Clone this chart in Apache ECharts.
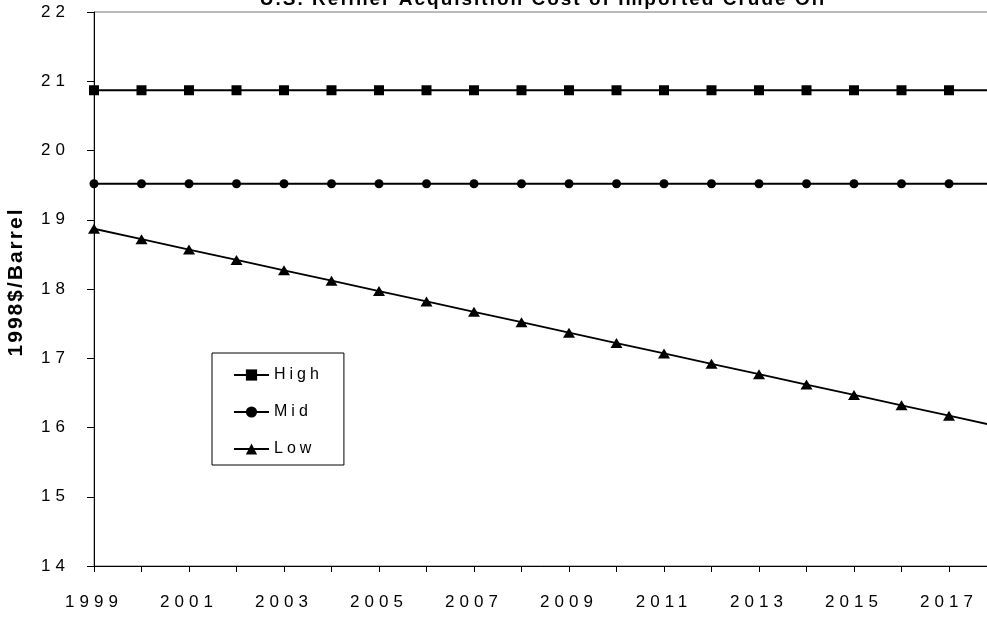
<!DOCTYPE html>
<html>
<head>
<meta charset="utf-8">
<script src="https://cdn.jsdelivr.net/npm/echarts@6/dist/echarts.min.js"></script>
<style>
html,body{margin:0;padding:0;background:#fff;}
#chart{width:987px;height:619px;}
</style>
</head>
<body>
<div id="chart"></div>
<script>
// ---- data ----
const years = [1999, 2000, 2001, 2002, 2003, 2004, 2005, 2006, 2007, 2008, 2009, 2010, 2011, 2012, 2013, 2014, 2015, 2016, 2017, 2018];
const highValues = [20.87, 20.87, 20.87, 20.87, 20.87, 20.87, 20.87, 20.87, 20.87, 20.87, 20.87, 20.87, 20.87, 20.87, 20.87, 20.87, 20.87, 20.87, 20.87, 20.87];
const midValues = [19.52, 19.52, 19.52, 19.52, 19.52, 19.52, 19.52, 19.52, 19.52, 19.52, 19.52, 19.52, 19.52, 19.52, 19.52, 19.52, 19.52, 19.52, 19.52, 19.52];
const lowValues = [18.87, 18.72, 18.57, 18.42, 18.27, 18.12, 17.97, 17.82, 17.67, 17.52, 17.37, 17.22, 17.07, 16.92, 16.77, 16.62, 16.47, 16.32, 16.17, 16.02];
const xTickLabels = ['1999', '2001', '2003', '2005', '2007', '2009', '2011', '2013', '2015', '2017'];
const yTickLabels = ['14', '15', '16', '17', '18', '19', '20', '21', '22'];
const seriesNames = ['High', 'Mid', 'Low'];
const titleText = 'U.S. Refiner Acquisition Cost of Imported Crude Oil';
const yAxisName = '1998$/Barrel';

// letter spacing (the original uses widely spaced text)
(function () {
  const P = CanvasRenderingContext2D.prototype;
  const orig = P.fillText;
  P.fillText = function (t, x, y, w) {
    const f = this.font || '';
    let ls = '0px';
    if (/\b17px\b/.test(f)) ls = '5px';
    else if (/\b16px\b/.test(f)) ls = '4px';
    else if (/\b19px\b/.test(f)) ls = '2px';
    else if (/\b21px\b/.test(f)) ls = '2px';
    try { this.letterSpacing = ls; } catch (e) {}
    return w === undefined ? orig.call(this, t, x, y) : orig.call(this, t, x, y, w);
  };
})();

const pairs = (vals) => years.map((y, i) => [y, vals[i]]);
const FONT = 'Arial, "Liberation Sans", sans-serif';

const chart = echarts.init(document.getElementById('chart'), null, { renderer: 'canvas' });
chart.setOption({
  animation: false,
  backgroundColor: '#fff',
  title: {
    text: titleText,
    left: 543,
    top: -10,
    textAlign: 'center',
    padding: 0,
    textStyle: { fontFamily: FONT, fontSize: 19, fontWeight: 'bold', color: '#000', lineHeight: 19 }
  },
  grid: {
    left: 94, right: -9.5, top: 12, bottom: 53,
    containLabel: false,
    outerBoundsMode: 'none',
    show: true, borderColor: '#777', borderWidth: 1, backgroundColor: 'transparent'
  },
  legend: {
    orient: 'vertical',
    left: 212, top: 353,
    padding: [14, 37, 8, 21],
    itemWidth: 35, itemHeight: 14, itemGap: 21,
    borderColor: '#000', borderWidth: 1,
    backgroundColor: '#fff',
    data: seriesNames,
    textStyle: { fontFamily: FONT, fontSize: 16, color: '#000', lineHeight: 16 }
  },
  xAxis: {
    type: 'value',
    min: 1999, max: 2018, interval: 1,
    axisLine: { lineStyle: { color: '#000', width: 1 } },
    axisTick: { show: true, length: 6, lineStyle: { color: '#000' } },
    splitLine: { show: false },
    axisLabel: {
      margin: 28, color: '#000', fontFamily: FONT, fontSize: 17,
      showMaxLabel: false,
      formatter: (v) => xTickLabels.includes(String(v)) ? String(v) : ''
    }
  },
  yAxis: {
    type: 'value',
    min: 14, max: 22, interval: 1,
    name: yAxisName,
    nameLocation: 'middle', nameRotate: 90, nameGap: 67,
    nameTextStyle: { fontFamily: FONT, fontSize: 21, fontWeight: 'bold', color: '#000', padding: [0, 0, 0, 14] },
    axisLine: { show: true, lineStyle: { color: '#000', width: 1 } },
    axisTick: { show: true, length: 7, lineStyle: { color: '#000' } },
    splitLine: { show: false },
    axisLabel: {
      margin: 24, color: '#000', fontFamily: FONT, fontSize: 17,
      formatter: (v) => yTickLabels.includes(String(v)) ? String(v) : ''
    }
  },
  series: [
    { name: seriesNames[0], type: 'line', data: pairs(highValues), symbol: 'rect', symbolSize: 10,
      color: '#000', lineStyle: { color: '#000', width: 1.8 }, itemStyle: { color: '#000' } },
    { name: seriesNames[1], type: 'line', data: pairs(midValues), symbol: 'circle', symbolSize: 9,
      color: '#000', lineStyle: { color: '#000', width: 1.8 }, itemStyle: { color: '#000' } },
    { name: seriesNames[2], type: 'line', data: pairs(lowValues), symbol: 'triangle', symbolSize: [12, 10],
      color: '#000', lineStyle: { color: '#000', width: 1.8 }, itemStyle: { color: '#000' } }
  ]
});
</script>
</body>
</html>
